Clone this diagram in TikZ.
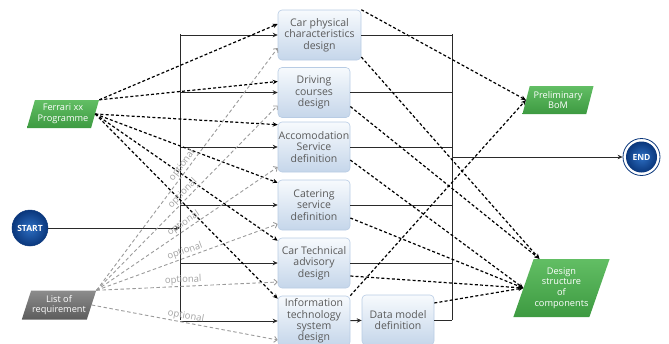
\documentclass[tikz,border=0pt]{standalone}
\usepackage{fontspec}
\setmainfont{Open Sans}
\usetikzlibrary{shapes.geometric,arrows.meta,calc}
\definecolor{boxtop}{HTML}{F7FAFD}
\definecolor{boxbot}{HTML}{C5D6EA}
\definecolor{boxedge}{HTML}{B8CCE4}
\definecolor{boxtext}{HTML}{5A5A5A}
\definecolor{grtop}{HTML}{62BE64}
\definecolor{grbot}{HTML}{3D9A41}
\definecolor{gytop}{HTML}{8C8C8C}
\definecolor{gybot}{HTML}{5C5C5C}
\definecolor{bluein}{HTML}{2D6EC2}
\definecolor{blueout}{HTML}{0A377C}
\definecolor{optgrey}{HTML}{A2A2A2}
\definecolor{linegrey}{HTML}{9A9A9A}
\definecolor{solidc}{HTML}{2A2A2A}
\begin{document}
\begin{tikzpicture}[x=1pt,y=-1pt,
  task/.style={rounded corners=4pt, draw=boxedge, line width=0.6pt, top color=boxtop, bottom color=boxbot,
    text=boxtext, align=center, minimum width=72pt, minimum height=50pt, inner sep=0.5pt,
    font=\fontsize{10.5}{11.4}\selectfont},
  para/.style={trapezium, trapezium stretches body=true, draw=none, text=white, align=center,
    inner sep=1pt, font=\fontsize{9.2}{10.8}\selectfont},
  greenpara/.style={para, top color=grtop, bottom color=grbot},
  greypara/.style={para, top color=gytop, bottom color=gybot},
  blk/.style={draw=black, line width=1.2pt, dash pattern=on 3pt off 2.2pt, -{Stealth[length=5pt,width=4.5pt]}},
  gry/.style={draw=linegrey, line width=0.9pt, dash pattern=on 3.5pt off 2.5pt, -{Straight Barb[length=3pt,width=6pt]}},
  solidline/.style={draw=solidc, line width=1pt},
  solidarrow/.style={solidline, -{Stealth[length=5pt,width=4.5pt]}},
  opt/.style={text=optgrey, font=\fontsize{9.5}{10}\selectfont, sloped, above, inner sep=1pt},
  terminal/.style={circle, inner sep=0pt, text=white, font=\fontsize{8.5}{9}\selectfont\bfseries}
]
\useasboundingbox (0,0) rectangle (669,343);

% task boxes
\node[task, minimum width=83pt] (b1) at (319.5,35) {Car physical\\characteristics\\design};
\node[task] (b2) at (314,92.5) {Driving\\courses\\design};
\node[task] (b3) at (314,147) {Accomodation\\Service\\definition};
\node[task] (b4) at (314,205) {Catering\\service\\definition};
\node[task] (b5) at (314,263) {Car Technical\\advisory\\design};
\node[task] (b6) at (314,321) {Information\\technology\\system\\design};
\node[task] (dm) at (398,320) {Data model\\definition};

% parallelograms
\node[greenpara, trapezium left angle=70, trapezium right angle=110, minimum width=72pt, minimum height=28pt] (fer) at (63,114) {Ferrari xx\\Programme};
\node[greypara, trapezium left angle=67, trapezium right angle=113, minimum width=72pt, minimum height=29pt] (lst) at (59,305) {List of\\requirement};
\node[greenpara, trapezium left angle=70, trapezium right angle=110, minimum width=71pt, minimum height=28pt] (bom) at (558,100) {Preliminary\\BoM};
\node[greenpara, trapezium left angle=65, trapezium right angle=115, minimum width=93pt, minimum height=58pt] (ds) at (561.5,288) {Design\\structure\\of\\components};

% start / end
\node[terminal, minimum size=36pt, inner color=bluein, outer color=blueout, draw=blueout, line width=0.5pt] (start) at (30,228) {START};
\node[circle, minimum size=37pt, draw=blueout, line width=0.8pt, fill=white, inner sep=0pt] (endbg) at (641.5,157) {};
\node[terminal, minimum size=31pt, inner color=bluein, outer color=blueout] (end) at (641.5,157) {END};

% fork bar
\coordinate (ftop) at (180,34);
\coordinate (fbot) at (180,320);
\draw[solidline] (ftop) -- (fbot);
\draw[solidarrow] (start) -- (start -| ftop);
\foreach \b in {b1,b2,b3,b4,b5,b6}
  \draw[solidarrow] (\b.west -| ftop) -- (\b.west);

% join bar
\coordinate (jtop) at (452,34);
\coordinate (jbot) at (452,320);
\coordinate (jout) at (452,157);
\draw[solidline] (jtop) -- (jbot);
\foreach \b in {b1,b2,b3,b4,b5,dm}
  \draw[solidline] (\b.east) -- (\b.east -| jtop);
\draw[solidarrow] (b6) -- (dm);
\draw[solidarrow] (jout) -- (endbg);

% Ferrari programme inputs
\draw[blk] (fer.top right corner) -- ([yshift=11pt]b1.west);
\draw[blk] (fer.top right corner) -- ([yshift=11pt]b2.west);
\draw[blk] (fer.east) -- ([yshift=-3pt]b3.north west);
\draw[blk] (fer.east) -- ([yshift=-3pt]b4.north west);
\draw[blk] (fer.east) -- ([yshift=-3pt]b5.north west);
\draw[blk] (fer.east) -- ([yshift=-3pt]b6.north west);

% optional requirement inputs
\draw[gry] (lst.top right corner) -- node[opt, pos=0.5] {optional} ([yshift=-13pt]b1.west);
\draw[gry] (lst.top right corner) -- node[opt, pos=0.5] {optional} ([yshift=-13pt]b2.west);
\draw[gry] (lst.top right corner) -- node[opt, pos=0.5] {optional} ([yshift=-20pt]b3.west);
\draw[gry] (lst.top right corner) -- node[opt, pos=0.5] {optional} ([yshift=-19pt]b4.west);
\draw[gry] (lst.top right corner) -- node[opt, pos=0.48] {optional} ([yshift=-19pt]b5.west);
\draw[gry] (lst.east) -- node[opt, pos=0.5] {optional} ([yshift=-19pt]b6.west);

% outputs
\draw[blk] (b1.north east) -- (bom.west);
\draw[blk] (b6.north east) -- (bom.west);
\draw[blk] ([yshift=-22pt]b1.east) -- ([xshift=6pt]ds.top left corner);
\draw[blk] ([yshift=-14pt]b2.east) -- ([xshift=6pt]ds.top left corner);
\draw[blk] ([yshift=-13pt]b3.east) -- (ds.west);
\draw[blk] ([yshift=-13pt]b4.east) -- (ds.west);
\draw[blk] ([yshift=-13pt]b5.east) -- (ds.west);
\draw[blk] ([yshift=17pt]dm.east) -- (ds.west);
\end{tikzpicture}
\end{document}
